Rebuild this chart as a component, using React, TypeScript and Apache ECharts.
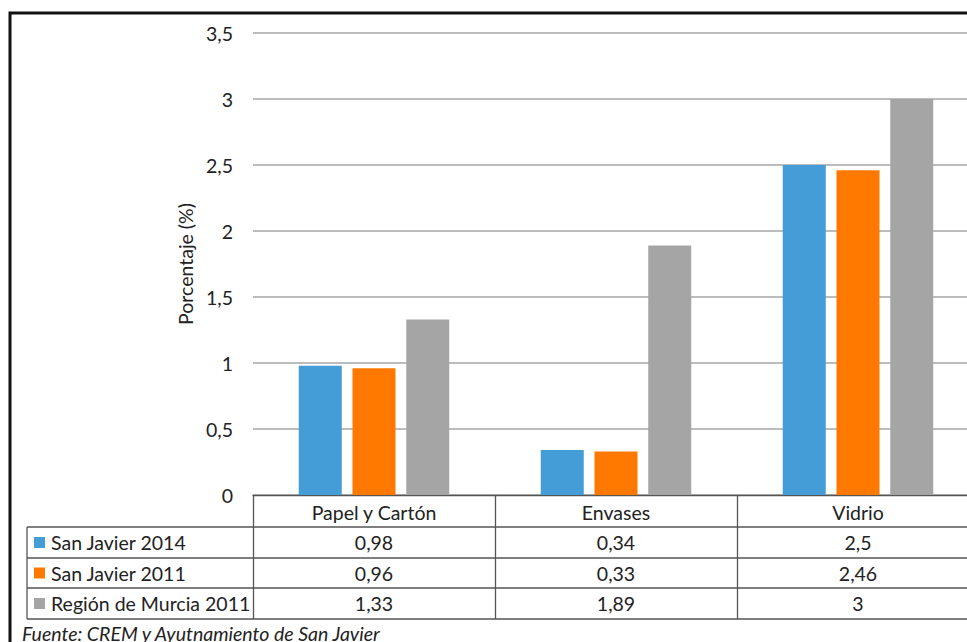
import React, { useEffect, useRef } from "react";
import * as echarts from "echarts";

const categories = ["Papel y Cartón", "Envases", "Vidrio"];
const seriesNames = ["San Javier 2014", "San Javier 2011", "Región de Murcia 2011"];
const sanJavier2014 = [0.98, 0.34, 2.5];
const sanJavier2011 = [0.96, 0.33, 2.46];
const murcia2011 = [1.33, 1.89, 3];
const colors = ["#459dd7", "#ff7800", "#a5a5a5"];
const yTicks = { min: 0, max: 3.5, interval: 0.5 };
const footnote = "Fuente: CREM y Ayutnamiento de San Javier";

const FONT = "Lato";
const FS = 19.5;
const GRID_LEFT = 253;
const GRID_TOP = 33;
const GRID_BOTTOM_Y = 495;
const CAT_W = 242;
const ROW_Y = [527, 558, 588, 619];
const TABLE_LEFT = 27;
const CHART_W = 1000;
const fmt = (v: number) => String(v).replace(".", ",");

export default function App() {
  const ref = useRef<HTMLDivElement>(null);
  useEffect(() => {
    if (!ref.current) return;
    const chart = echarts.init(ref.current, undefined, { renderer: "svg" });
    const allSeries = [sanJavier2014, sanJavier2011, murcia2011];
    const lineStyle = { stroke: "#555", lineWidth: 1.3 };
    const graphics: any[] = [
      {
        type: "rect",
        shape: { x: 10, y: 13, width: 1100, height: 800 },
        style: { fill: "none", stroke: "#111", lineWidth: 3 },
        z: 10,
      },
    ];
    ROW_Y.forEach((y) => {
      graphics.push({
        type: "line",
        shape: { x1: TABLE_LEFT, y1: y, x2: CHART_W, y2: y },
        style: lineStyle,
      });
    });
    graphics.push({
      type: "line",
      shape: { x1: TABLE_LEFT, y1: ROW_Y[0], x2: TABLE_LEFT, y2: ROW_Y[3] },
      style: lineStyle,
    });
    allSeries.forEach((vals, r) => {
      const cy = (ROW_Y[r] + ROW_Y[r + 1]) / 2;
      graphics.push({
        type: "rect",
        shape: { x: 34, y: cy - 5.5, width: 11, height: 11 },
        style: { fill: colors[r] },
      });
      graphics.push({
        type: "text",
        x: 51,
        y: cy,
        style: {
          text: seriesNames[r],
          font: `${FS}px ${FONT}`,
          fill: "#222",
          textAlign: "left",
          textVerticalAlign: "middle",
        },
      });
      vals.forEach((v, c) => {
        graphics.push({
          type: "text",
          x: GRID_LEFT + CAT_W * (c + 0.5),
          y: cy,
          style: {
            text: fmt(v),
            font: `${FS}px ${FONT}`,
            fill: "#222",
            textAlign: "center",
            textVerticalAlign: "middle",
          },
        });
      });
    });
    graphics.push({
      type: "text",
      x: 22,
      y: 623,
      style: {
        text: footnote,
        font: `italic ${FS}px ${FONT}`,
        fill: "#222",
        textAlign: "left",
        textVerticalAlign: "top",
      },
    });

    chart.setOption({
      animation: false,
      backgroundColor: "#fff",
      grid: {
        left: GRID_LEFT,
        top: GRID_TOP,
        width: CAT_W * categories.length,
        height: GRID_BOTTOM_Y - GRID_TOP,
        containLabel: false,
      },
      xAxis: {
        type: "category",
        data: categories,
        axisLine: { show: true, lineStyle: { color: "#555", width: 1.3 } },
        axisTick: {
          show: true,
          length: ROW_Y[3] - GRID_BOTTOM_Y,
          lineStyle: { color: "#555", width: 1.3 },
        },
        axisLabel: {
          margin: 7,
          fontFamily: FONT,
          fontSize: FS,
          color: "#222",
        },
      },
      yAxis: {
        type: "value",
        min: yTicks.min,
        max: yTicks.max,
        interval: yTicks.interval,
        name: "Porcentaje (%)",
        nameLocation: "middle",
        nameGap: 48,
        nameTextStyle: { fontFamily: FONT, fontSize: FS, color: "#222" },
        axisLine: { show: false },
        axisTick: { show: false },
        axisLabel: {
          margin: 20,
          fontFamily: FONT,
          fontSize: FS,
          color: "#222",
          formatter: (v: number) => fmt(v),
        },
        splitLine: { lineStyle: { color: "#a6a6a6", width: 1.5 } },
      },
      series: allSeries.map((vals, i) => ({
        type: "bar",
        name: seriesNames[i],
        data: vals,
        barWidth: 43,
        barGap: "25%",
        itemStyle: { color: colors[i] },
      })),
      graphic: graphics,
    });
    return () => chart.dispose();
  }, []);
  return (
    <div
      style={{
        position: "fixed",
        left: 0,
        top: 0,
        width: 967,
        height: 642,
        overflow: "hidden",
        background: "#fff",
      }}
    >
      <div ref={ref} style={{ width: CHART_W, height: 642 }} />
    </div>
  );
}
